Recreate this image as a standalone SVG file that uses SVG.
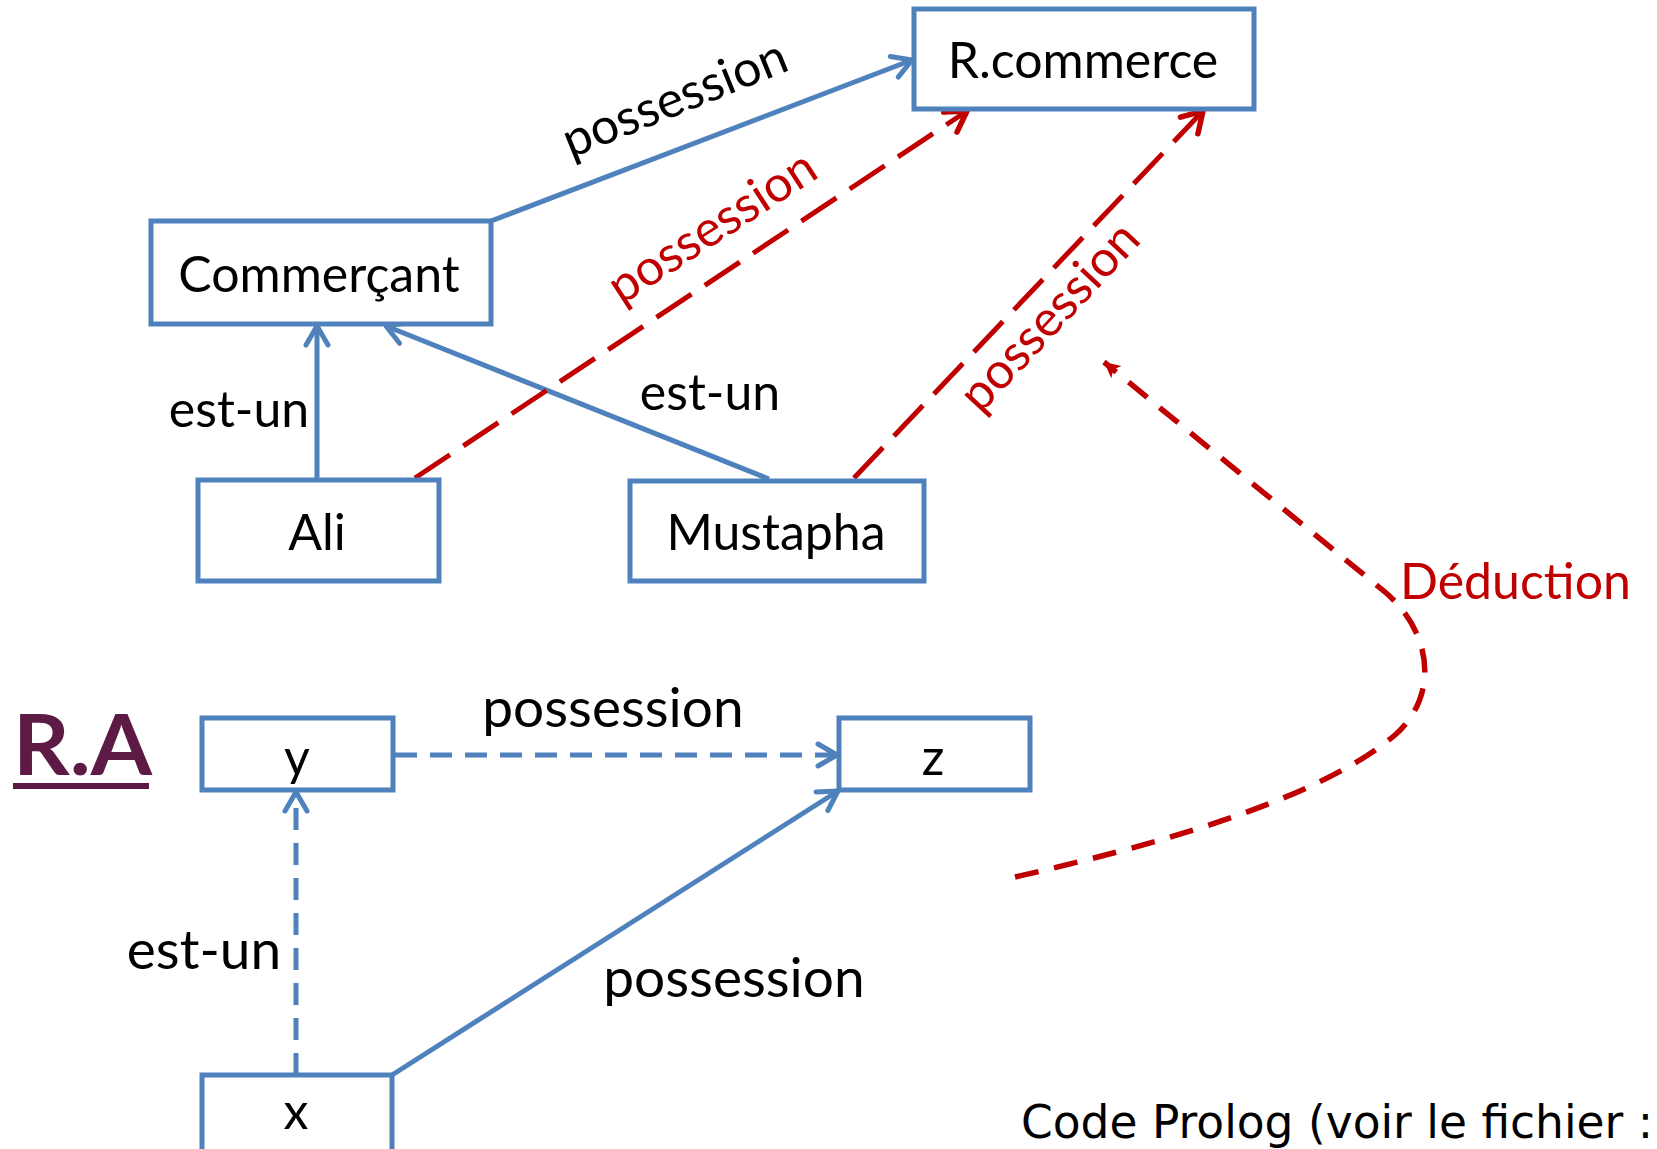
<svg xmlns="http://www.w3.org/2000/svg" width="1657" height="1149" viewBox="0 0 1657 1149">
<style>
.box{fill:#fff;stroke:#4f81bd;stroke-width:5}
.lbl{font-family:Lato,"Liberation Sans",sans-serif;font-size:50px;fill:#000}
.big{font-size:55px}
.red{fill:#c00000}
.blue{stroke:#4f81bd;stroke-width:5;fill:none}
.bdash{stroke-dasharray:22 13}
.rdash{stroke:#c00000;stroke-width:5;fill:none;stroke-dasharray:42 16}
.ddash{stroke:#c00000;stroke-width:5.5;fill:none;stroke-dasharray:24 16}
</style>
<defs>
<marker id="ab" markerUnits="userSpaceOnUse" markerWidth="30" markerHeight="30" viewBox="0 0 30 30" refX="27" refY="15" orient="auto">
<path d="M8,4 L27,15 L8,26" fill="none" stroke="#4f81bd" stroke-width="5" stroke-linecap="round" stroke-linejoin="round"/>
</marker>
<marker id="ar" markerUnits="userSpaceOnUse" markerWidth="32" markerHeight="32" viewBox="0 0 32 32" refX="29" refY="16" orient="auto">
<path d="M9,4 L29,16 L9,28" fill="none" stroke="#c00000" stroke-width="5.5" stroke-linecap="round" stroke-linejoin="round"/>
</marker>
<marker id="ad" markerUnits="userSpaceOnUse" markerWidth="20" markerHeight="20" viewBox="0 0 20 20" refX="18" refY="10" orient="auto">
<path d="M2,2 L18,10 L2,18 L6,10 Z" fill="#c00000"/>
</marker>
</defs>
<rect width="1657" height="1149" fill="#fff"/>

<g id="connectors">
<line class="blue" x1="491" y1="221" x2="912" y2="60" marker-end="url(#ab)"/>
<line class="blue" x1="317" y1="480" x2="317" y2="326" marker-end="url(#ab)"/>
<line class="blue" x1="769" y1="479" x2="386" y2="326" marker-end="url(#ab)"/>
<line class="rdash" x1="415" y1="478" x2="967" y2="111" marker-end="url(#ar)"/>
<line class="rdash" x1="854" y1="478" x2="1203" y2="111" marker-end="url(#ar)"/>
<path class="ddash" d="M1015,877 C1200,835 1330,790 1395,735 C1440,695 1432,632 1385,592 L1104,362" marker-end="url(#ad)"/>
<line class="blue bdash" x1="395" y1="755" x2="837" y2="755" marker-end="url(#ab)"/>
<line class="blue bdash" x1="296" y1="1075" x2="296" y2="792" marker-end="url(#ab)"/>
<line class="blue" x1="392" y1="1075" x2="838" y2="791" marker-end="url(#ab)"/>

<text class="lbl" transform="translate(676,102) rotate(-22)" text-anchor="middle" y="13">possession</text>
<text class="lbl" x="239" y="427" text-anchor="middle" font-size="49">est-un</text>
<text class="lbl" x="710" y="410" text-anchor="middle" font-size="49">est-un</text>
<text class="lbl red" transform="translate(714,230) rotate(-33)" text-anchor="middle" y="13">possession</text>
<text class="lbl red" transform="translate(1052,319) rotate(-47)" text-anchor="middle" y="13">possession</text>
<text class="lbl red" x="1400" y="599" font-size="53">Déduction</text>
<text class="lbl big" x="613" y="727" text-anchor="middle">possession</text>
<text class="lbl big" x="204" y="969" text-anchor="middle">est-un</text>
<text class="lbl big" x="734" y="997" text-anchor="middle">possession</text>
</g>

<g id="n-rcommerce"><rect class="box" x="914" y="9" width="340" height="100"/><text class="lbl" x="1083" y="78" text-anchor="middle">R.commerce</text></g>
<g id="n-commercant"><rect class="box" x="151" y="221" width="340" height="103"/><text class="lbl" x="319" y="292" text-anchor="middle">Commerçant</text></g>
<g id="n-ali"><rect class="box" x="198" y="480" width="241" height="101"/><text class="lbl" x="317" y="550" text-anchor="middle">Ali</text></g>
<g id="n-mustapha"><rect class="box" x="630" y="481" width="294" height="100"/><text class="lbl" x="776" y="550" text-anchor="middle">Mustapha</text></g>
<g id="n-y"><rect class="box" x="202" y="718" width="191" height="72"/><text class="lbl" x="297" y="775" text-anchor="middle">y</text></g>
<g id="n-z"><rect class="box" x="839" y="718" width="191" height="72"/><text class="lbl" x="933" y="775" text-anchor="middle">z</text></g>
<g id="n-x"><rect class="box" x="202" y="1075" width="190" height="90"/><text class="lbl" x="296" y="1129" text-anchor="middle">x</text></g>

<g id="title-ra">
<text x="13" y="775" font-family="Lato,'Liberation Sans',sans-serif" font-weight="bold" font-size="84" fill="#5c1a44" textLength="139" lengthAdjust="spacingAndGlyphs">R.A</text>
<rect x="13" y="783" width="136" height="6" fill="#5c1a44"/>
</g>
<text x="1021" y="1138" font-family="'DejaVu Sans',sans-serif" font-size="45.5" fill="#000">Code Prolog (voir le fichier :</text>
</svg>
